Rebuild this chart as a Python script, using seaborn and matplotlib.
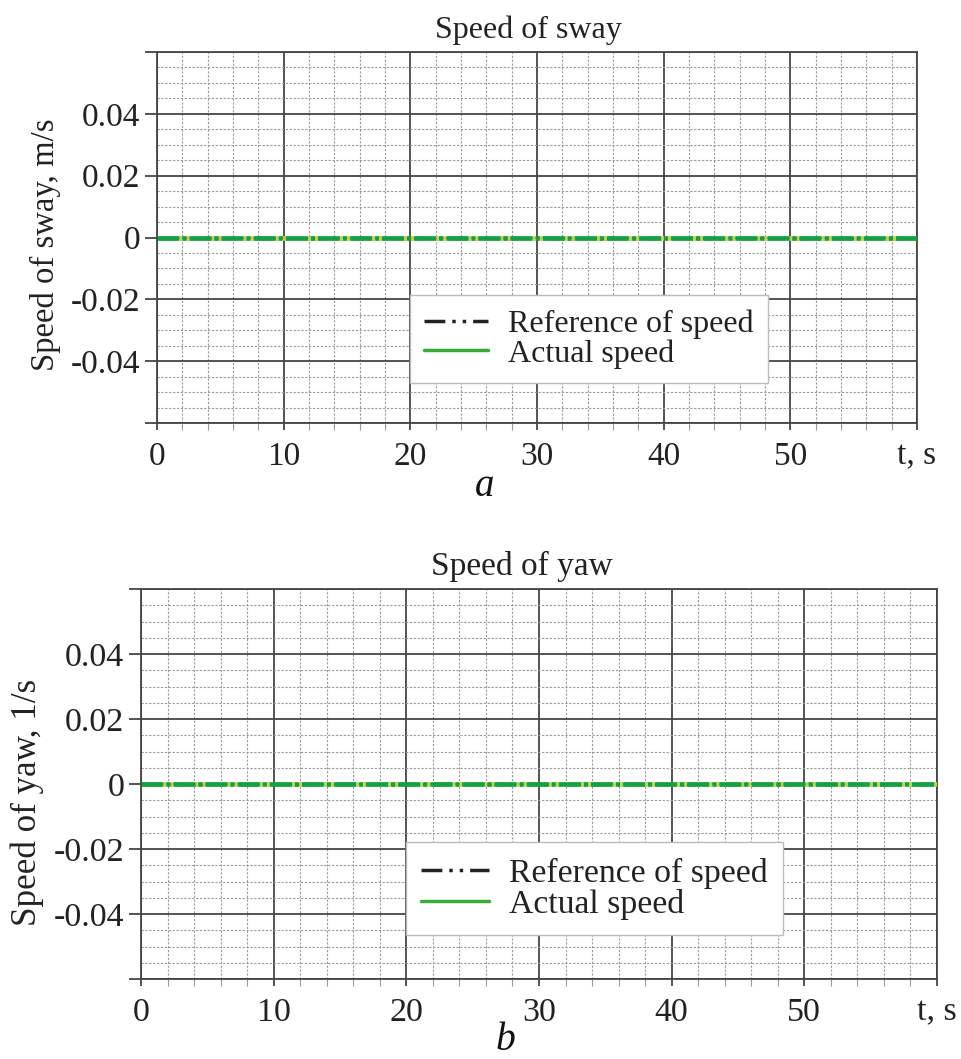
import numpy as np
import pandas as pd
import seaborn as sns
import matplotlib
matplotlib.use("Agg")
import matplotlib.pyplot as plt
from matplotlib.lines import Line2D
from matplotlib.ticker import MultipleLocator, FixedLocator

# ---- data ----
t = [0, 10, 20, 30, 40, 50, 60]
sway_reference = [0, 0, 0, 0, 0, 0, 0]
sway_actual = [0, 0, 0, 0, 0, 0, 0]
yaw_reference = [0, 0, 0, 0, 0, 0, 0]
yaw_actual = [0, 0, 0, 0, 0, 0, 0]
x_ticks = [0, 10, 20, 30, 40, 50, 60]
x_tick_labels = ["0", "10", "20", "30", "40", "50", "t, s"]
y_ticks = [-0.06, -0.04, -0.02, 0, 0.02, 0.04, 0.06]
y_tick_labels = ["", "-0.04", "-0.02", "0", "0.02", "0.04", ""]
titles = ["Speed of sway", "Speed of yaw"]
ylabels = ["Speed of sway, m/s", "Speed of yaw, 1/s"]
panel_letters = ["a", "b"]
legend_labels = ["Reference of speed", "Actual speed"]

sns.set_theme(style="white")
plt.rcParams["font.family"] = ["Liberation Serif", "DejaVu Serif"]

DARK = "#454545"
TXT = "#222222"
GREEN = "#14a043"
GAP = "#bcd84a"

fig = plt.figure(figsize=(9.61, 10.59), dpi=100)
ax_rects = [
    [157 / 961, 1 - 423 / 1059, (917 - 157) / 961, (423 - 52) / 1059],
    [141 / 961, 1 - 979 / 1059, (937 - 141) / 961, (979 - 589) / 1059],
]
series = [(sway_reference, sway_actual), (yaw_reference, yaw_actual)]
letter_pos = [(485 / 961, 1 - 487 / 1059), (505 / 961, 1 - 1040 / 1059)]
tick_fs = [24, 24.5]
legend_fs = [23, 24.3]
title_fs = [23, 24]
title_x = [0.488, 0.479]
ylabel_fs = [23.6, 25.2]
ylabel_y = [0.48, 0.454]
legend_anchor = [(0.333, 0.108), (0.333, 0.113)]

for i, rect in enumerate(ax_rects):
    ax = fig.add_axes(rect)
    ref, act = series[i]
    df = pd.DataFrame({"t": t, "ref": ref, "act": act})
    sns.lineplot(data=df, x="t", y="ref", ax=ax, color=TXT, linewidth=2.5,
                 estimator=None, zorder=3)
    ax.lines[-1].set_linestyle((0, (6, 2, 1, 2, 1, 2)))
    sns.lineplot(data=df, x="t", y="act", ax=ax, color=GREEN, linewidth=3.4,
                 estimator=None, zorder=4)
    gl = ax.lines[-1]
    gl.set_linestyle((0, (4.6, 0.7, 0.8, 0.7)))
    gl.set_gapcolor(GAP)

    ax.set_xlim(0, 60)
    ax.set_ylim(-0.06, 0.06)
    ax.xaxis.set_major_locator(FixedLocator(x_ticks))
    ax.set_xticklabels(x_tick_labels, fontsize=tick_fs[i], color=TXT)
    ax.yaxis.set_major_locator(FixedLocator(y_ticks))
    ax.set_yticklabels(y_tick_labels, fontsize=tick_fs[i], color=TXT)
    ax.xaxis.set_minor_locator(MultipleLocator(2))
    ax.yaxis.set_minor_locator(MultipleLocator(0.005))

    ax.grid(which="major", color=DARK, linestyle="-", linewidth=1.3, zorder=1)
    ax.grid(which="minor", color="#9a9a9a", linestyle=(0, (2, 1.5)), linewidth=0.8, zorder=1)
    ax.set_axisbelow(True)

    ax.tick_params(axis="y", which="major", left=True, direction="out", color=DARK,
                   width=1.3, length=9, pad=3)
    ax.tick_params(axis="x", which="major", bottom=True, direction="out", color=DARK,
                   width=1.3, length=5, pad=8)
    ax.tick_params(axis="x", which="minor", bottom=True, direction="out", length=5,
                   width=0.8, color="#9a9a9a")
    ax.tick_params(axis="y", which="minor", left=False, length=0)

    for s in ax.spines.values():
        s.set_color(DARK)
        s.set_linewidth(1.3)

    ax.set_title(titles[i], fontsize=title_fs[i], color=TXT, pad=10, x=title_x[i])
    ax.set_xlabel("")
    ax.set_ylabel(ylabels[i], fontsize=ylabel_fs[i], color=TXT, labelpad=7)
    ax.yaxis.label.set_y(ylabel_y[i])

    handles = [
        Line2D([], [], color=TXT, linewidth=2.5, linestyle=(0, (6, 2, 1, 2, 1, 2))),
        Line2D([], [], color="#3aaa3a", linewidth=2.5),
    ]
    leg = ax.legend(handles, legend_labels, loc="lower left",
                    bbox_to_anchor=legend_anchor[i],
                    fontsize=legend_fs[i], frameon=True, fancybox=False, framealpha=1,
                    edgecolor="#bbbbbb", handlelength=2.0, handletextpad=0.6,
                    borderpad=0.45, labelspacing=0.0, borderaxespad=0)
    leg.get_frame().set_linewidth(1.0)
    for txt in leg.get_texts():
        txt.set_color(TXT)

    fig.text(letter_pos[i][0], letter_pos[i][1], panel_letters[i], fontsize=tick_fs[i] + 4,
             style="italic", ha="center", va="center", color="#111111")

fig.savefig("out.png", dpi=100, facecolor="white")
